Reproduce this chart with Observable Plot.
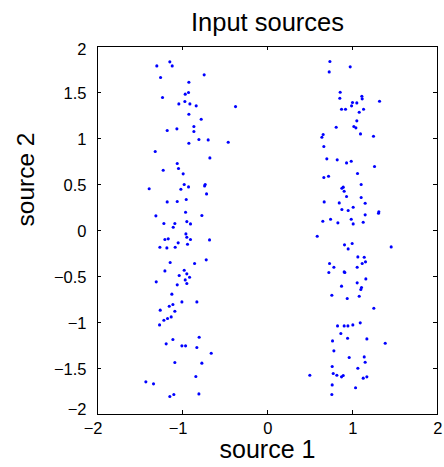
<!DOCTYPE html>
<html>
<head>
<meta charset="utf-8">
<script src="https://cdn.jsdelivr.net/npm/d3@7"></script>
<script src="https://cdn.jsdelivr.net/npm/@observablehq/plot@0.6"></script>
<style>
  html, body { margin: 0; padding: 0; background: #ffffff; }
  #chart svg { display: block; }
</style>
</head>
<body>
<div id="chart"></div>
<script>
const titleText = "Input sources";
const xLabel = "source 1";
const yLabel = "source 2";
const xTicks = [-2, -1, 0, 1, 2];
const yTicks = [-2, -1.5, -1, -0.5, 0, 0.5, 1, 1.5, 2];

// Left cluster (source 1 around -1)
const leftX = [-1.149,-1.302,-1.121,-0.745,-1.258,-0.925,-0.929,-0.968,-1.235,-0.972,-1.043,-0.913,-0.839,-0.376,-0.925,-0.780,-0.866,-1.066,-1.180,-0.866,-0.807,-0.698,-0.462,-0.925,-1.321,-0.678,-1.062,-1.227,-1.047,-0.992,-0.980,-0.929,-0.733,-0.740,-1.392,-1.019,-0.717,-0.956,-1.180,-1.062,-0.964,-1.313,-0.772,-1.219,-1.090,-0.949,-0.906,-1.109,
  -0.960,-0.949,-1.207,-1.168,-0.906,-0.682,-1.051,-0.941,-1.266,-1.184,-1.086,-0.721,-0.858,-1.145,-1.207,-0.980,-0.949,-1.039,-0.917,-0.968,-1.309,-0.949,-1.062,-1.125,-1.007,-0.831,-1.113,-1.156,-1.262,-1.090,-1.133,-1.176,-1.219,-1.270,-0.804,-1.113,-1.192,-1.007,-0.964,-0.831,-0.662,-1.090,-0.772,-0.843,-1.431,-1.341,-0.807,-1.102,-1.149];
const leftY = [1.833,1.789,1.789,1.692,1.663,1.612,1.500,1.482,1.445,1.402,1.376,1.376,1.355,1.347,1.264,1.210,1.130,1.105,1.087,1.076,0.989,0.985,0.960,0.949,0.858,0.789,0.728,0.655,0.674,0.616,0.500,0.474,0.500,0.485,0.453,0.449,0.398,0.337,0.311,0.315,0.199,0.159,0.163,0.076,0.076,0.097,0.072,0.036,
  -0.037,-0.073,-0.098,-0.091,-0.098,-0.102,-0.134,-0.149,-0.182,-0.189,-0.182,-0.319,-0.359,-0.348,-0.439,-0.432,-0.471,-0.489,-0.508,-0.537,-0.558,-0.576,-0.591,-0.692,-0.776,-0.776,-0.805,-0.823,-0.866,-0.877,-0.939,-0.957,-0.975,-1.026,-1.160,-1.185,-1.232,-1.254,-1.254,-1.272,-1.334,-1.435,-1.442,-1.587,-1.645,-1.667,-1.776,-1.783,-1.805];

// Right cluster (source 1 around +1)
const rightX = [0.734,0.973,0.726,0.855,0.851,1.110,1.114,1.318,1.000,1.051,0.989,0.871,0.918,1.130,1.079,1.051,0.808,1.016,1.040,0.655,0.640,1.094,1.247,0.663,0.698,0.820,0.985,0.930,1.259,1.059,0.718,0.663,1.102,0.891,0.875,0.902,0.930,1.102,0.667,0.844,1.149,1.008,0.875,0.949,1.310,1.306,1.149,0.651,0.742,0.828,0.985,1.008,1.126,
  0.585,0.906,0.996,0.949,1.455,1.063,1.138,1.153,1.114,0.730,0.781,1.055,0.722,0.902,0.910,1.157,1.055,0.871,1.106,1.098,0.757,1.079,0.938,1.251,1.091,0.824,0.902,0.946,1.004,0.863,0.942,1.169,0.765,1.385,0.781,1.138,0.961,1.149,0.761,1.063,0.773,0.498,0.816,0.891,0.871,1.169,1.126,0.761,1.036,0.757];
const rightY = [1.837,1.779,1.724,1.503,1.438,1.460,1.431,1.405,1.391,1.387,1.355,1.318,1.318,1.318,1.286,1.192,1.123,1.130,1.116,1.043,1.014,1.050,1.025,0.913,0.779,0.768,0.753,0.735,0.695,0.619,0.590,0.576,0.500,0.471,0.460,0.427,0.369,0.358,0.311,0.300,0.297,0.253,0.228,0.217,0.203,0.188,0.170,0.101,0.123,0.083,0.123,0.072,0.090,
  -0.062,-0.156,-0.142,-0.200,-0.178,-0.287,-0.290,-0.341,-0.359,-0.359,-0.399,-0.399,-0.457,-0.450,-0.457,-0.526,-0.569,-0.605,-0.620,-0.642,-0.703,-0.714,-0.739,-0.845,-1.004,-1.037,-1.037,-1.037,-1.026,-1.120,-1.171,-1.178,-1.200,-1.225,-1.308,-1.374,-1.381,-1.432,-1.479,-1.497,-1.555,-1.573,-1.573,-1.576,-1.591,-1.591,-1.605,-1.678,-1.710,-1.783];

const points = [
  ...leftX.map((x, i) => ({x, y: leftY[i]})),
  ...rightX.map((x, i) => ({x, y: rightY[i]}))
];

const fmt = d => d < 0 ? "\u2212" + Math.abs(d) : String(d);
const yInner = yTicks.filter(d => Math.abs(d) < 2);
const yTop = yTicks.filter(d => d === 2);
const yBottom = yTicks.filter(d => d === -2);

const W = 444, H = 467;
const mL = 97, mR = 7, mT = 46, mB = 53;
const fw = W - mL - mR, fh = H - mT - mB;
const tickLen = 4;

const chart = Plot.plot({
  width: W,
  height: H,
  marginLeft: mL,
  marginRight: mR,
  marginTop: mT,
  marginBottom: mB,
  style: {fontFamily: "'Liberation Sans', Arial, Helvetica, sans-serif", background: "#ffffff", color: "black"},
  x: {domain: [-2, 2], axis: null},
  y: {domain: [-2, 2], axis: null},
  marks: [
    Plot.dot(points, {x: "x", y: "y", r: 1.55, fill: "#0000ff", stroke: "none"}),
    Plot.frame({stroke: "black", strokeWidth: 1}),
    Plot.tickX(xTicks, {x: d => d, insetTop: fh - tickLen, stroke: "black"}),
    Plot.tickX(xTicks, {x: d => d, insetBottom: fh - tickLen, stroke: "black"}),
    Plot.tickY(yTicks, {y: d => d, insetRight: fw - tickLen, stroke: "black"}),
    Plot.tickY(yTicks, {y: d => d, insetLeft: fw - tickLen, stroke: "black"}),
    Plot.text(xTicks, {x: d => d, frameAnchor: "bottom", text: fmt, textAnchor: "end", dx: 5, dy: 14, fontSize: 16.5, lineAnchor: "middle", fill: "black", ariaLabel: "tick-label"}),
    Plot.text(yInner, {y: d => d, frameAnchor: "left", text: fmt, textAnchor: "end", dx: -11, dy: 1.5, fontSize: 16.5, lineAnchor: "middle", fill: "black", ariaLabel: "tick-label"}),
    Plot.text(yTop, {y: d => d, frameAnchor: "left", text: fmt, textAnchor: "end", dx: -11, dy: 3.5, fontSize: 16.5, lineAnchor: "middle", fill: "black", ariaLabel: "tick-label"}),
    Plot.text(yBottom, {y: d => d, frameAnchor: "left", text: fmt, textAnchor: "end", dx: -11, dy: -5, fontSize: 16.5, lineAnchor: "middle", fill: "black", ariaLabel: "tick-label"}),
    Plot.text([titleText], {frameAnchor: "top", text: d => d, dy: -24, fontSize: 25.5, lineAnchor: "middle", fill: "black", ariaLabel: "title"}),
    Plot.text([xLabel], {frameAnchor: "bottom", text: d => d, dy: 35, fontSize: 25, lineAnchor: "middle", fill: "black", ariaLabel: "xlabel"}),
    Plot.text([yLabel], {frameAnchor: "left", text: d => d, rotate: -90, dx: -71.5, dy: -4, fontSize: 24.5, lineAnchor: "middle", fill: "black", ariaLabel: "ylabel"})
  ]
});

document.getElementById("chart").append(chart);

function stretch(label, factor, fixed) {
  chart.querySelectorAll(`g[aria-label="${label}"] text`).forEach(t => {
    const w = t.getComputedTextLength();
    t.setAttribute("textLength", fixed != null ? fixed : w * factor);
    t.setAttribute("lengthAdjust", "spacingAndGlyphs");
  });
}
stretch("tick-label", 1.1);
stretch("title", 1, 175);
stretch("xlabel", 1, 107);
stretch("ylabel", 1, 86);
</script>
</body>
</html>
